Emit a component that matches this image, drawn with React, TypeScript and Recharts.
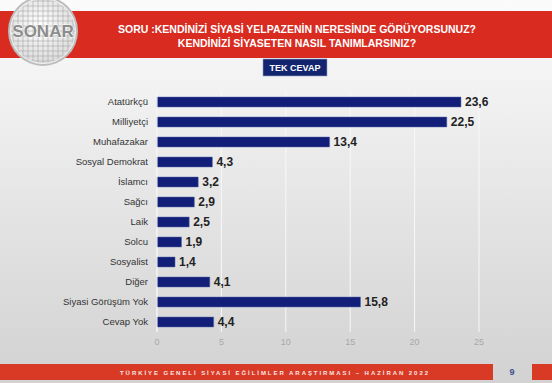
import React from "react";
import { BarChart, Bar, XAxis, YAxis, CartesianGrid, LabelList } from "recharts";

const categories = [
  "Atatürkçü",
  "Milliyetçi",
  "Muhafazakar",
  "Sosyal Demokrat",
  "İslamcı",
  "Sağcı",
  "Laik",
  "Solcu",
  "Sosyalist",
  "Diğer",
  "Siyasi Görüşüm Yok",
  "Cevap Yok",
];
const values = [23.6, 22.5, 13.4, 4.3, 3.2, 2.9, 2.5, 1.9, 1.4, 4.1, 15.8, 4.4];
const xTicks = [0, 5, 10, 15, 20, 25];

const titleLine1 = "SORU :KENDİNİZİ SİYASİ YELPAZENİN NERESİNDE GÖRÜYORSUNUZ?";
const titleLine2 = "KENDİNİZİ SİYASETEN NASIL TANIMLARSINIZ?";
const badgeText = "TEK CEVAP";
const footerText = "TÜRKİYE GENELİ SİYASİ EĞİLİMLER ARAŞTIRMASI – HAZİRAN 2022";
const pageNumber = "9";
const logoText = "SONAR";

const data = categories.map((name, i) => ({ name, value: values[i] }));

const FONT = "'Liberation Sans', Arial, sans-serif";

function Logo() {
  const lines: React.ReactNode[] = [];
  for (let k = -30; k <= 30; k += 5) {
    lines.push(<line key={"v" + k} x1={43 + k} y1={-5} x2={43 + k} y2={67} stroke="#9a9a9a" strokeWidth={0.5} />);
    lines.push(<line key={"h" + k} x1={6} y1={31 + k} x2={80} y2={31 + k} stroke="#9a9a9a" strokeWidth={0.5} />);
  }
  return (
    <g>
      <defs>
        <radialGradient id="lg" cx="45%" cy="40%" r="60%">
          <stop offset="0%" stopColor="#ffffff" />
          <stop offset="100%" stopColor="#dcdcdc" />
        </radialGradient>
        <clipPath id="lc">
          <circle cx={43} cy={31} r={32} />
        </clipPath>
      </defs>
      <circle cx={43} cy={31} r={35} fill="#bdbdbd" />
      <circle cx={43} cy={31} r={33} fill="#f2f2f2" />
      <circle cx={43} cy={31} r={32} fill="url(#lg)" />
      <g clipPath="url(#lc)">{lines}</g>
      <text
        x={43}
        y={37}
        textAnchor="middle"
        fontFamily={FONT}
        fontWeight="bold"
        fontSize={17}
        fill="#8c8c8c"
        stroke="#ffffff"
        strokeWidth={1}
        paintOrder="stroke"
      >
        {logoText}
      </text>
    </g>
  );
}

export default function App() {
  return (
    <div
      style={{
        position: "absolute",
        left: 0,
        top: 0,
        width: 552,
        height: 383,
        overflow: "hidden",
        background: "linear-gradient(180deg, #fbfbfb 0%, #f1f1f1 25%, #e2e2e2 60%, #d2d2d2 100%)",
        fontFamily: FONT,
      }}
    >
      <svg width={552} height={383} style={{ position: "absolute", left: 0, top: 0 }}>
        <rect x={0} y={11} width={552} height={47} fill="#d92b20" />
        <Logo />
        <text x={297} y={33} textAnchor="middle" fontFamily={FONT} fontWeight="bold" fontSize={10.5} fill="#ffffff">
          {titleLine1}
        </text>
        <text x={297} y={47} textAnchor="middle" fontFamily={FONT} fontWeight="bold" fontSize={10.5} fill="#ffffff">
          {titleLine2}
        </text>
        <rect x={263} y={59} width={64} height={17} fill="#13256f" stroke="#8fa0c8" strokeWidth={0.6} />
        <text x={295} y={71} textAnchor="middle" fontFamily={FONT} fontWeight="bold" fontSize={9} fill="#ffffff">
          {badgeText}
        </text>
        <rect x={0} y={364} width={493} height={16} fill="#d93a26" />
        <rect x={532} y={364} width={20} height={16} fill="#d93a26" />
        <text
          x={120}
          y={374.5}
          textLength={308}
          lengthAdjust="spacing"
          fontFamily={FONT}
          fontWeight="bold"
          fontSize={6}
          fill="#f6e6e2"
        >
          {footerText}
        </text>
        <text x={512} y={375} textAnchor="middle" fontFamily={FONT} fontWeight="bold" fontSize={9} fill="#3a4f8e">
          {pageNumber}
        </text>
      </svg>
      <div style={{ position: "absolute", left: 0, top: 85 }}>
        <BarChart
          width={552}
          height={267}
          data={data}
          layout="vertical"
          margin={{ top: 7, right: 73, left: 0, bottom: 0 }}
          barCategoryGap={5}
        >
          <CartesianGrid horizontal={false} vertical={true} stroke="#f8f8f8" strokeWidth={1} />
          <XAxis
            type="number"
            domain={[0, 25]}
            ticks={xTicks}
            height={20}
            axisLine={false}
            tickLine={false}
            tickSize={0}
            tickMargin={7}
            tick={{ fontSize: 9, fill: "#a8a8a8", fontFamily: FONT }}
          />
          <YAxis
            type="category"
            dataKey="name"
            width={157}
            axisLine={{ stroke: "#f4f4f4", strokeWidth: 1 }}
            tickLine={false}
            tickSize={0}
            tickMargin={9}
            interval={0}
            tick={{ fontSize: 9.5, fill: "#333333", fontFamily: FONT }}
          />
          <Bar dataKey="value" fill="#121f78" stroke="#5a68a8" strokeWidth={0.5} barSize={10} isAnimationActive={false}>
            <LabelList
              dataKey="value"
              position="right"
              offset={4}
              formatter={(v: number) => String(v).replace(".", ",")}
              style={{ fontSize: 12, fontWeight: "bold", fill: "#222222", fontFamily: FONT }}
            />
          </Bar>
        </BarChart>
      </div>
    </div>
  );
}
